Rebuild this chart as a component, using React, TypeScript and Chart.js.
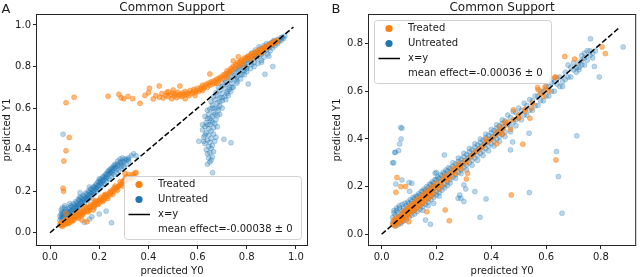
import React, { useEffect, useRef } from 'react';
import { Chart, registerables } from 'chart.js';
Chart.register(...registerables);

// ---------- Panel A data (flat x,y pairs) ----------
const aTreated = [
  0.065,0.626, 0.098,0.652, 0.236,0.657, 0.28,0.666, 0.289,0.65, 0.30,0.645, 0.317,0.656, 0.336,0.645, 0.366,0.623,
  0.386,0.661, 0.404,0.695, 0.40,0.674, 0.42,0.644, 0.444,0.706, 0.43,0.66, 0.445,0.652, 0.455,0.67, 0.46,0.648,
  0.47,0.66, 0.475,0.675, 0.481,0.679, 0.48,0.655, 0.49,0.665, 0.495,0.645, 0.50,0.672, 0.501,0.687, 0.505,0.658,
  0.51,0.668, 0.515,0.65, 0.52,0.676, 0.525,0.66, 0.528,0.706, 0.53,0.667, 0.535,0.655, 0.54,0.672, 0.545,0.662,
  0.55,0.68, 0.555,0.665, 0.56,0.673, 0.565,0.66, 0.57,0.685, 0.575,0.67, 0.58,0.678, 0.585,0.69, 0.59,0.675,
  0.595,0.685, 0.60,0.695, 0.605,0.68, 0.61,0.69, 0.615,0.70, 0.62,0.71, 0.625,0.695, 0.63,0.705, 0.635,0.715,
  0.64,0.70, 0.645,0.72, 0.65,0.764, 0.65,0.71, 0.655,0.725, 0.66,0.715, 0.665,0.73, 0.67,0.72, 0.675,0.735,
  0.68,0.74, 0.685,0.73, 0.69,0.745, 0.695,0.75, 0.70,0.74, 0.705,0.76, 0.71,0.755, 0.715,0.765, 0.72,0.78,
  0.725,0.77, 0.73,0.775, 0.732,0.775, 0.735,0.79, 0.74,0.785, 0.745,0.827, 0.745,0.80, 0.75,0.795, 0.755,0.81,
  0.76,0.805, 0.766,0.847, 0.765,0.82, 0.77,0.815, 0.775,0.825, 0.78,0.83, 0.785,0.82, 0.79,0.84, 0.795,0.835,
  0.80,0.845, 0.805,0.85, 0.81,0.84, 0.815,0.855, 0.82,0.86, 0.825,0.85, 0.83,0.865, 0.835,0.87, 0.84,0.86,
  0.845,0.875, 0.85,0.88, 0.855,0.87, 0.86,0.885, 0.865,0.88, 0.87,0.89, 0.875,0.895, 0.88,0.89, 0.885,0.90,
  0.89,0.905, 0.895,0.90, 0.90,0.91, 0.905,0.915, 0.91,0.91, 0.915,0.92, 0.92,0.925, 0.925,0.92, 0.78,0.805,
  0.82,0.835, 0.86,0.865, 0.59,0.66, 0.55,0.645, 0.62,0.685, 0.68,0.72, 0.72,0.75,
  0.04,0.04, 0.045,0.035, 0.05,0.045, 0.05,0.03, 0.055,0.05, 0.06,0.04, 0.06,0.055, 0.065,0.05, 0.07,0.06,
  0.07,0.045, 0.075,0.055, 0.08,0.065, 0.08,0.05, 0.085,0.06, 0.09,0.07, 0.09,0.055, 0.095,0.075, 0.10,0.07,
  0.10,0.085, 0.105,0.08, 0.11,0.075, 0.11,0.09, 0.115,0.085, 0.12,0.095, 0.12,0.08, 0.125,0.09, 0.13,0.10,
  0.13,0.085, 0.135,0.105, 0.14,0.10, 0.145,0.11, 0.15,0.105, 0.15,0.12, 0.155,0.115, 0.16,0.125, 0.16,0.11,
  0.165,0.12, 0.17,0.13, 0.175,0.125, 0.18,0.14, 0.18,0.13, 0.185,0.145, 0.19,0.14, 0.195,0.15, 0.20,0.155,
  0.20,0.145, 0.205,0.16, 0.21,0.155, 0.215,0.165, 0.22,0.17, 0.22,0.16, 0.225,0.175, 0.23,0.18, 0.235,0.175,
  0.24,0.19, 0.245,0.185, 0.25,0.195, 0.255,0.205, 0.26,0.20, 0.265,0.21, 0.27,0.215, 0.275,0.22, 0.28,0.225,
  0.285,0.23, 0.29,0.235, 0.295,0.245, 0.30,0.25, 0.305,0.26, 0.31,0.27, 0.32,0.28, 0.33,0.26, 0.345,0.286,
  0.305,0.286, 0.34,0.27,
  0.045,0.05, 0.055,0.04, 0.065,0.065, 0.075,0.045, 0.085,0.075, 0.095,0.06, 0.105,0.095, 0.115,0.07,
  0.125,0.105, 0.135,0.09, 0.145,0.125, 0.155,0.10, 0.165,0.135, 0.175,0.11, 0.185,0.155, 0.195,0.135,
  0.205,0.17, 0.215,0.15, 0.225,0.185, 0.235,0.165, 0.245,0.20, 0.255,0.185, 0.265,0.225, 0.275,0.205,
  0.285,0.245, 0.295,0.225, 0.31,0.25, 0.32,0.265, 0.335,0.28, 0.35,0.29, 0.26,0.215, 0.22,0.18, 0.18,0.15,
  0.14,0.115, 0.10,0.08,
  0.078,0.459, 0.065,0.395, 0.056,0.345, 0.053,0.214, 0.055,0.20, 0.15,0.053, 0.065,0.093, 0.13,0.06,
];

const aUntreated = [
  0.04,0.06, 0.04,0.08, 0.045,0.07, 0.045,0.09, 0.05,0.065, 0.05,0.085, 0.05,0.10, 0.055,0.075, 0.055,0.095,
  0.06,0.08, 0.06,0.10, 0.065,0.09, 0.065,0.11, 0.07,0.085, 0.07,0.10, 0.075,0.095, 0.075,0.115, 0.08,0.10,
  0.08,0.12, 0.085,0.105, 0.09,0.11, 0.09,0.125, 0.095,0.115, 0.10,0.12, 0.10,0.135, 0.105,0.125, 0.11,0.13,
  0.11,0.145, 0.115,0.135, 0.12,0.14, 0.12,0.155, 0.125,0.145, 0.13,0.15, 0.13,0.165, 0.135,0.155, 0.14,0.16,
  0.14,0.175, 0.145,0.165, 0.15,0.17, 0.15,0.185, 0.155,0.175, 0.16,0.18, 0.16,0.195, 0.165,0.19, 0.17,0.195,
  0.17,0.21, 0.175,0.20, 0.18,0.205, 0.18,0.22, 0.185,0.215, 0.19,0.22, 0.19,0.235, 0.195,0.225, 0.20,0.23,
  0.20,0.245, 0.205,0.24, 0.21,0.245, 0.21,0.26, 0.215,0.25, 0.22,0.255, 0.22,0.27, 0.225,0.265, 0.23,0.27,
  0.23,0.285, 0.235,0.28, 0.24,0.285, 0.24,0.30, 0.245,0.29, 0.25,0.295, 0.25,0.31, 0.255,0.30, 0.26,0.31,
  0.26,0.325, 0.265,0.315, 0.27,0.32, 0.275,0.33, 0.28,0.325, 0.285,0.34, 0.29,0.335, 0.295,0.345, 0.30,0.34,
  0.305,0.355, 0.31,0.35, 0.32,0.36, 0.20,0.26, 0.16,0.22, 0.12,0.17, 0.08,0.14,
  0.045,0.11, 0.05,0.12, 0.06,0.13, 0.07,0.075, 0.08,0.085, 0.085,0.13, 0.09,0.095, 0.095,0.14, 0.10,0.105,
  0.105,0.15, 0.11,0.115, 0.115,0.16, 0.12,0.125, 0.125,0.17, 0.13,0.135, 0.135,0.18, 0.14,0.145, 0.145,0.19,
  0.15,0.155, 0.155,0.20, 0.16,0.165, 0.165,0.21, 0.17,0.175, 0.175,0.22, 0.18,0.19, 0.185,0.23, 0.19,0.20,
  0.195,0.245, 0.20,0.21, 0.205,0.255, 0.21,0.225, 0.215,0.27, 0.22,0.235, 0.225,0.28, 0.23,0.245, 0.235,0.295,
  0.24,0.26, 0.245,0.305, 0.25,0.27, 0.255,0.315, 0.26,0.28, 0.265,0.33, 0.27,0.29, 0.275,0.345, 0.28,0.30,
  0.285,0.355, 0.29,0.31, 0.295,0.36, 0.30,0.32, 0.31,0.33, 0.32,0.345, 0.33,0.37, 0.34,0.38, 0.29,0.32,
  0.27,0.305, 0.25,0.285, 0.23,0.26, 0.21,0.235, 0.19,0.21, 0.17,0.185, 0.15,0.165, 0.13,0.145, 0.11,0.125,
  0.09,0.105, 0.07,0.09, 0.05,0.075,
  0.053,0.474, 0.25,0.048, 0.17,0.077, 0.20,0.09, 0.228,0.104, 0.18,0.12, 0.122,0.193, 0.06,0.12, 0.16,0.065,
  0.14,0.05, 0.316,0.353, 0.35,0.37,
  0.661,0.289, 0.64,0.33, 0.65,0.34, 0.655,0.35, 0.645,0.36, 0.66,0.365, 0.64,0.38, 0.65,0.385, 0.665,0.39,
  0.635,0.40, 0.655,0.405, 0.645,0.415, 0.66,0.42, 0.63,0.43, 0.65,0.435, 0.67,0.44, 0.64,0.445, 0.655,0.455,
  0.625,0.46, 0.645,0.47, 0.665,0.475, 0.635,0.48, 0.655,0.49, 0.62,0.495, 0.645,0.50, 0.665,0.505, 0.63,0.51,
  0.65,0.52, 0.67,0.525, 0.635,0.53, 0.655,0.54, 0.675,0.545, 0.64,0.55, 0.66,0.56, 0.68,0.565, 0.645,0.57,
  0.665,0.58, 0.685,0.59, 0.65,0.595, 0.67,0.60, 0.69,0.61, 0.66,0.615, 0.68,0.625, 0.70,0.635, 0.67,0.64,
  0.69,0.65, 0.71,0.655, 0.68,0.66, 0.70,0.67, 0.72,0.68, 0.69,0.685, 0.71,0.695, 0.73,0.70, 0.70,0.705,
  0.72,0.715, 0.74,0.72, 0.715,0.725, 0.735,0.735, 0.755,0.74, 0.73,0.745, 0.75,0.755, 0.77,0.76, 0.745,0.765,
  0.765,0.775, 0.785,0.78, 0.76,0.785, 0.78,0.795, 0.80,0.80, 0.775,0.805, 0.795,0.815, 0.815,0.82, 0.79,0.825,
  0.81,0.835, 0.83,0.84, 0.805,0.845, 0.825,0.855, 0.845,0.86, 0.82,0.865, 0.84,0.87, 0.86,0.875, 0.835,0.88,
  0.855,0.885, 0.875,0.89, 0.85,0.895, 0.87,0.90, 0.89,0.905, 0.88,0.91, 0.90,0.915, 0.92,0.92, 0.91,0.925,
  0.935,0.93, 0.95,0.935,
  0.65,0.55, 0.67,0.57, 0.66,0.60, 0.68,0.60, 0.69,0.63, 0.70,0.65, 0.72,0.67, 0.73,0.69, 0.74,0.70, 0.76,0.73,
  0.76,0.75, 0.78,0.76, 0.79,0.78, 0.80,0.79, 0.82,0.81, 0.83,0.82, 0.84,0.84, 0.85,0.85, 0.86,0.86, 0.87,0.87,
  0.88,0.88, 0.89,0.89, 0.90,0.90, 0.91,0.91, 0.93,0.92, 0.94,0.94, 0.955,0.947, 0.64,0.52, 0.66,0.53, 0.63,0.47,
  0.625,0.44, 0.675,0.46, 0.62,0.52, 0.68,0.51, 0.63,0.56, 0.69,0.57, 0.64,0.59, 0.70,0.60, 0.655,0.63,
  0.715,0.64, 0.665,0.655, 0.725,0.66, 0.675,0.675, 0.735,0.68, 0.685,0.70, 0.745,0.70, 0.70,0.72, 0.76,0.72,
  0.71,0.74, 0.775,0.74, 0.725,0.76, 0.79,0.76, 0.74,0.775, 0.80,0.775, 0.755,0.79, 0.815,0.79, 0.77,0.80,
  0.83,0.80, 0.79,0.81, 0.845,0.815, 0.805,0.83, 0.86,0.83, 0.82,0.845, 0.87,0.845, 0.835,0.855, 0.885,0.86,
  0.85,0.87, 0.895,0.875, 0.865,0.885, 0.905,0.89, 0.88,0.895, 0.915,0.90, 0.895,0.91, 0.925,0.91, 0.91,0.92,
  0.94,0.925, 0.925,0.93, 0.945,0.94,
  0.707,0.45, 0.736,0.433, 0.874,0.763, 0.806,0.716, 0.906,0.80, 0.86,0.82, 0.89,0.85, 0.605,0.44,
];

// ---------- Panel B data (flat x,y pairs) ----------
const bTreated = [
  0.04,0.04, 0.045,0.05, 0.05,0.045, 0.05,0.06, 0.055,0.055, 0.06,0.05, 0.06,0.065, 0.065,0.06, 0.07,0.07,
  0.07,0.06, 0.075,0.075, 0.08,0.08, 0.08,0.07, 0.085,0.09, 0.09,0.085, 0.095,0.10, 0.10,0.095, 0.10,0.11,
  0.105,0.10, 0.11,0.115, 0.115,0.11, 0.12,0.125, 0.12,0.115, 0.125,0.13, 0.13,0.125, 0.135,0.14, 0.14,0.135,
  0.145,0.15, 0.15,0.145, 0.155,0.16, 0.16,0.155, 0.165,0.17, 0.17,0.165, 0.175,0.18, 0.18,0.175, 0.19,0.19,
  0.20,0.20, 0.21,0.205, 0.22,0.225, 0.23,0.23, 0.24,0.24, 0.25,0.255, 0.26,0.26, 0.27,0.275, 0.28,0.28,
  0.29,0.29, 0.30,0.305, 0.32,0.32, 0.34,0.345, 0.36,0.36, 0.38,0.385, 0.40,0.40, 0.42,0.43, 0.44,0.44,
  0.46,0.47, 0.48,0.48, 0.50,0.50, 0.38,0.40, 0.42,0.38, 0.44,0.42, 0.47,0.44, 0.45,0.47, 0.43,0.45,
  0.55,0.55, 0.58,0.59, 0.61,0.60,
  0.045,0.06, 0.05,0.035, 0.055,0.07, 0.06,0.045, 0.065,0.075, 0.07,0.055, 0.075,0.09, 0.08,0.06, 0.085,0.10,
  0.09,0.07, 0.095,0.11, 0.10,0.08, 0.105,0.12, 0.11,0.095, 0.115,0.13, 0.12,0.10, 0.125,0.14, 0.13,0.11,
  0.135,0.15, 0.14,0.12, 0.145,0.16, 0.15,0.13, 0.155,0.17, 0.16,0.14, 0.165,0.18, 0.17,0.15, 0.175,0.19,
  0.18,0.16, 0.185,0.20, 0.19,0.175, 0.20,0.215, 0.21,0.19, 0.22,0.205, 0.23,0.245, 0.24,0.225, 0.25,0.24,
  0.26,0.275, 0.27,0.255, 0.28,0.295, 0.29,0.275, 0.31,0.30, 0.33,0.33, 0.35,0.35, 0.37,0.37, 0.39,0.39,
  0.41,0.41, 0.43,0.425,
  0.313,0.256, 0.309,0.232, 0.232,0.102, 0.247,0.057, 0.473,0.165, 0.515,0.378, 0.056,0.238, 0.052,0.176,
  0.07,0.20, 0.636,0.312, 0.816,0.758, 0.804,0.786, 0.668,0.746, 0.634,0.66, 0.596,0.618, 0.571,0.606,
  0.704,0.735, 0.523,0.525, 0.481,0.522, 0.087,0.20, 0.165,0.095, 0.099,0.053, 0.569,0.616, 0.598,0.606,
  0.632,0.658, 0.59,0.578, 0.547,0.529, 0.523,0.515, 0.50,0.487, 0.451,0.459, 0.541,0.487,
];

const bUntreated = [
  0.04,0.05, 0.04,0.07, 0.045,0.04, 0.045,0.09, 0.05,0.06, 0.05,0.08, 0.055,0.05, 0.055,0.10, 0.06,0.07,
  0.06,0.09, 0.065,0.06, 0.065,0.11, 0.07,0.08, 0.07,0.05, 0.075,0.10, 0.08,0.07, 0.08,0.11, 0.085,0.09,
  0.09,0.12, 0.09,0.08, 0.095,0.10, 0.10,0.13, 0.10,0.09, 0.105,0.11, 0.11,0.14, 0.11,0.10, 0.115,0.12,
  0.12,0.15, 0.12,0.10, 0.125,0.13, 0.13,0.16, 0.13,0.115, 0.135,0.14, 0.14,0.165, 0.14,0.12, 0.145,0.15,
  0.15,0.18, 0.15,0.13, 0.155,0.16, 0.16,0.185, 0.16,0.145, 0.165,0.17, 0.17,0.195, 0.17,0.15, 0.175,0.18,
  0.18,0.21, 0.18,0.16, 0.185,0.19, 0.19,0.215, 0.19,0.17, 0.195,0.20, 0.20,0.23, 0.20,0.18, 0.205,0.21,
  0.21,0.235, 0.21,0.19, 0.215,0.22, 0.22,0.245, 0.22,0.20, 0.225,0.23, 0.23,0.255, 0.23,0.21, 0.235,0.24,
  0.24,0.265, 0.24,0.22, 0.245,0.25, 0.25,0.275, 0.25,0.23, 0.255,0.26, 0.26,0.285, 0.26,0.24, 0.265,0.27,
  0.27,0.295, 0.27,0.25, 0.275,0.28, 0.28,0.305, 0.28,0.26, 0.285,0.29, 0.29,0.315, 0.29,0.27, 0.295,0.30,
  0.30,0.325, 0.30,0.28, 0.305,0.31, 0.31,0.335, 0.31,0.29, 0.315,0.32, 0.32,0.345, 0.32,0.30, 0.325,0.33,
  0.33,0.355, 0.33,0.31, 0.335,0.34, 0.34,0.365, 0.34,0.32, 0.345,0.35, 0.35,0.375, 0.35,0.33, 0.355,0.36,
  0.36,0.385, 0.36,0.34, 0.365,0.37, 0.37,0.395, 0.37,0.35, 0.375,0.38, 0.38,0.405, 0.38,0.36, 0.385,0.39,
  0.39,0.415, 0.39,0.37, 0.395,0.40, 0.40,0.425, 0.40,0.38, 0.405,0.41, 0.41,0.435, 0.41,0.39, 0.415,0.42,
  0.42,0.445, 0.42,0.40, 0.425,0.43, 0.43,0.455, 0.43,0.41, 0.435,0.44, 0.44,0.465, 0.44,0.42, 0.445,0.45,
  0.45,0.475, 0.45,0.43, 0.46,0.46, 0.47,0.49, 0.47,0.45, 0.48,0.47, 0.49,0.51, 0.49,0.48, 0.50,0.49,
  0.51,0.52, 0.52,0.50, 0.53,0.54, 0.54,0.52, 0.55,0.56, 0.56,0.54, 0.57,0.58, 0.58,0.56, 0.59,0.60,
  0.60,0.58, 0.61,0.62, 0.62,0.60, 0.63,0.64, 0.64,0.63, 0.65,0.66, 0.66,0.64, 0.67,0.68, 0.68,0.66,
  0.69,0.70, 0.70,0.69, 0.71,0.70, 0.72,0.72, 0.73,0.71, 0.74,0.74, 0.75,0.73, 0.76,0.75, 0.77,0.76,
  0.65,0.62, 0.68,0.71, 0.62,0.65, 0.71,0.68, 0.72,0.70, 0.74,0.76, 0.75,0.77, 0.73,0.75, 0.76,0.77,
  0.045,0.10, 0.05,0.035, 0.055,0.11, 0.06,0.04, 0.065,0.12, 0.07,0.045, 0.075,0.125, 0.08,0.055, 0.085,0.13,
  0.09,0.06, 0.095,0.135, 0.10,0.07, 0.105,0.145, 0.11,0.08, 0.115,0.155, 0.12,0.085, 0.125,0.16, 0.13,0.095,
  0.135,0.17, 0.14,0.105, 0.145,0.18, 0.15,0.115, 0.155,0.19, 0.16,0.125, 0.165,0.20, 0.17,0.135, 0.175,0.21,
  0.18,0.145, 0.185,0.22, 0.19,0.155, 0.195,0.23, 0.20,0.165, 0.205,0.24, 0.21,0.175, 0.215,0.25, 0.22,0.185,
  0.225,0.26, 0.23,0.195, 0.235,0.27, 0.24,0.205, 0.245,0.28, 0.25,0.215, 0.26,0.30, 0.27,0.235, 0.28,0.32,
  0.29,0.255, 0.30,0.34, 0.31,0.27, 0.32,0.36, 0.33,0.29, 0.34,0.38, 0.35,0.31, 0.36,0.40, 0.37,0.33,
  0.38,0.42, 0.39,0.35, 0.40,0.44, 0.41,0.37, 0.42,0.46, 0.43,0.39, 0.44,0.48, 0.45,0.41, 0.46,0.50,
  0.47,0.43, 0.48,0.515, 0.49,0.455, 0.50,0.53, 0.51,0.48, 0.52,0.55, 0.53,0.50, 0.54,0.565, 0.55,0.52,
  0.56,0.58, 0.57,0.54, 0.58,0.60, 0.59,0.56, 0.60,0.62, 0.61,0.58, 0.62,0.635, 0.63,0.60, 0.64,0.655,
  0.66,0.62, 0.67,0.65, 0.69,0.66, 0.70,0.72, 0.72,0.69, 0.73,0.73, 0.74,0.71, 0.77,0.74, 0.78,0.77,
  0.05,0.05, 0.06,0.06, 0.07,0.065, 0.08,0.09, 0.09,0.10, 0.10,0.11, 0.11,0.12, 0.12,0.13, 0.13,0.14,
  0.14,0.15, 0.15,0.16, 0.16,0.17, 0.17,0.18, 0.18,0.19, 0.19,0.20,
  0.074,0.445, 0.071,0.40, 0.066,0.379, 0.062,0.351, 0.048,0.343, 0.044,0.30, 0.04,0.30, 0.052,0.211,
  0.10,0.217, 0.229,0.333, 0.20,0.259, 0.102,0.18, 0.30,0.207, 0.307,0.19, 0.285,0.165, 0.289,0.151,
  0.30,0.137, 0.381,0.148, 0.359,0.071, 0.178,0.042, 0.16,0.06, 0.538,0.424, 0.712,0.413, 0.638,0.347,
  0.645,0.242, 0.539,0.175, 0.658,0.088, 0.478,0.387, 0.47,0.354, 0.881,0.786, 0.762,0.82, 0.794,0.66,
  0.776,0.704, 0.11,0.214, 0.195,0.256, 0.34,0.179, 0.279,0.151, 0.074,0.228, 0.05,0.344, 0.07,0.448,
  0.21,0.16, 0.19,0.13, 0.17,0.12, 0.15,0.10,
];

const aLine = [0.0, 0.0, 0.99, 0.99];
const bLine = [0.0, 0.0, 0.87, 0.87];

const aXTicks = [0.0, 0.2, 0.4, 0.6, 0.8, 1.0];
const aYTicks = [0.0, 0.2, 0.4, 0.6, 0.8, 1.0];
const bXTicks = [0.0, 0.2, 0.4, 0.6, 0.8];
const bYTicks = [0.0, 0.2, 0.4, 0.6, 0.8];

const titleText = 'Common Support';
const xLabel = 'predicted Y0';
const yLabel = 'predicted Y1';
const legendLabels = ['Treated', 'Untreated', 'x=y'];
const aEffect = 'mean effect=-0.00038 ± 0';
const bEffect = 'mean effect=-0.00036 ± 0';

const FONT = '"DejaVu Sans", Verdana, sans-serif';
const ORANGE = '#ff7f0e';
const BLUE = '#1f77b4';

function pairs(a: number[]) {
  const out: { x: number; y: number }[] = [];
  for (let i = 0; i < a.length; i += 2) out.push({ x: a[i], y: a[i + 1] });
  return out;
}

type PanelCfg = {
  letter: string;
  treated: number[];
  untreated: number[];
  line: number[];
  xMin: number; xMax: number; yMin: number; yMax: number;
  xTicks: number[]; yTicks: number[];
  effect: string;
  legendAt: 'lr' | 'ul';
  area: { left: number; top: number; right: number; bottom: number };
  yLabelX: number;
  letterX: number;
};

const W = 320;
const H = 277;

function Panel({ cfg }: { cfg: PanelCfg }) {
  const ref = useRef<HTMLCanvasElement | null>(null);
  useEffect(() => {
    if (!ref.current) return;
    const p = cfg;
    const decor = {
      id: 'decor',
      afterDraw(chart: any) {
        const ctx = chart.ctx as CanvasRenderingContext2D;
        const ca = chart.chartArea;
        ctx.save();
        ctx.strokeStyle = '#262626';
        ctx.lineWidth = 1;
        ctx.strokeRect(ca.left - 0.5, ca.top - 0.5, ca.right - ca.left + 1, ca.bottom - ca.top + 1);
        ctx.fillStyle = '#1a1a1a';
        ctx.font = `12px ${FONT}`;
        ctx.textAlign = 'center';
        ctx.textBaseline = 'alphabetic';
        ctx.fillText(titleText, (ca.left + ca.right) / 2, 10.5);
        ctx.font = `13px ${FONT}`;
        ctx.textAlign = 'left';
        ctx.fillText(p.letter, p.letterX, 13);
        ctx.font = `10px ${FONT}`;
        ctx.textAlign = 'center';
        ctx.fillText(xLabel, (ca.left + ca.right) / 2, 273.5);
        ctx.save();
        ctx.translate(p.yLabelX, (ca.top + ca.bottom) / 2);
        ctx.rotate(-Math.PI / 2);
        ctx.fillText(yLabel, 0, 0);
        ctx.restore();
        const bw = 177, bh = 63, inset = 5.5;
        let bx: number, by: number;
        if (p.legendAt === 'lr') { bx = ca.right - inset - bw; by = ca.bottom - inset - bh; }
        else { bx = ca.left + inset; by = ca.top + inset; }
        const r = 3;
        ctx.beginPath();
        ctx.moveTo(bx + r, by);
        ctx.lineTo(bx + bw - r, by);
        ctx.arcTo(bx + bw, by, bx + bw, by + r, r);
        ctx.lineTo(bx + bw, by + bh - r);
        ctx.arcTo(bx + bw, by + bh, bx + bw - r, by + bh, r);
        ctx.lineTo(bx + r, by + bh);
        ctx.arcTo(bx, by + bh, bx, by + bh - r, r);
        ctx.lineTo(bx, by + r);
        ctx.arcTo(bx, by, bx + r, by, r);
        ctx.closePath();
        ctx.fillStyle = 'rgba(255,255,255,0.8)';
        ctx.fill();
        ctx.strokeStyle = '#d0d0d0';
        ctx.lineWidth = 1;
        ctx.stroke();
        const rows = [8, 23, 38, 53];
        const mx = bx + 14.5;
        const tx = bx + 33.5;
        ctx.fillStyle = ORANGE;
        ctx.beginPath(); ctx.arc(mx, by + rows[0], 3.6, 0, Math.PI * 2); ctx.fill();
        ctx.fillStyle = BLUE;
        ctx.beginPath(); ctx.arc(mx, by + rows[1], 3.6, 0, Math.PI * 2); ctx.fill();
        ctx.strokeStyle = '#000';
        ctx.lineWidth = 1.5;
        ctx.beginPath(); ctx.moveTo(bx + 4, by + rows[2]); ctx.lineTo(bx + 25.5, by + rows[2]); ctx.stroke();
        ctx.fillStyle = '#1a1a1a';
        ctx.font = `10px ${FONT}`;
        ctx.textAlign = 'left';
        ctx.textBaseline = 'middle';
        ctx.fillText(legendLabels[0], tx, by + rows[0]);
        ctx.fillText(legendLabels[1], tx, by + rows[1]);
        ctx.fillText(legendLabels[2], tx, by + rows[2]);
        ctx.fillText(p.effect, tx, by + rows[3]);
        ctx.restore();
      },
    };
    const tickFont = { family: FONT, size: 10 };
    const chart = new Chart(ref.current, {
      type: 'scatter',
      data: {
        datasets: [
          {
            label: 'x=y',
            data: [{ x: p.line[0], y: p.line[1] }, { x: p.line[2], y: p.line[3] }],
            showLine: true,
            borderColor: '#000',
            borderWidth: 1.5,
            borderDash: [5.5, 2.4],
            pointRadius: 0,
            fill: false,
          } as any,
          {
            label: 'Treated',
            data: pairs(p.treated),
            backgroundColor: 'rgba(255,127,14,0.55)',
            borderColor: 'rgba(255,127,14,0.55)',
            borderWidth: 0.8,
            pointRadius: 2.5,
          },
          {
            label: 'Untreated',
            data: pairs(p.untreated),
            backgroundColor: 'rgba(31,119,180,0.3)',
            borderColor: 'rgba(31,119,180,0.3)',
            borderWidth: 0.8,
            pointRadius: 2.5,
          },
        ],
      },
      options: {
        responsive: false,
        animation: false,
        layout: { padding: { left: 0, top: p.area.top, right: W - p.area.right, bottom: 0 } },
        plugins: { legend: { display: false }, tooltip: { enabled: false }, title: { display: false } },
        scales: {
          x: {
            type: 'linear',
            min: p.xMin,
            max: p.xMax,
            afterBuildTicks: (s: any) => { s.ticks = p.xTicks.map((v) => ({ value: v })); },
            afterFit: (s: any) => { s.height = H - p.area.bottom; },
            ticks: {
              autoSkip: false, maxRotation: 0, padding: 2, color: '#1a1a1a', font: tickFont,
              callback: (v: any) => Number(v).toFixed(1),
            },
            grid: { drawOnChartArea: false, drawTicks: true, tickLength: 4, color: '#262626' },
            border: { display: false },
          },
          y: {
            type: 'linear',
            min: p.yMin,
            max: p.yMax,
            afterBuildTicks: (s: any) => { s.ticks = p.yTicks.map((v) => ({ value: v })); },
            afterFit: (s: any) => { s.width = p.area.left; },
            ticks: {
              autoSkip: false, padding: 2, color: '#1a1a1a', font: tickFont,
              callback: (v: any) => Number(v).toFixed(1),
            },
            grid: { drawOnChartArea: false, drawTicks: true, tickLength: 4, color: '#262626' },
            border: { display: false },
          },
        },
      } as any,
      plugins: [decor],
    });
    return () => chart.destroy();
  }, [cfg]);
  return <canvas ref={ref} width={W} height={H} style={{ width: W, height: H, display: 'block' }} />;
}

const panelA: PanelCfg = {
  letter: 'A', treated: aTreated, untreated: aUntreated, line: aLine,
  xMin: -0.053, xMax: 1.045, yMin: -0.059, yMax: 1.048,
  xTicks: aXTicks, yTicks: aYTicks, effect: aEffect, legendAt: 'lr',
  area: { left: 37, top: 15, right: 307, bottom: 245 }, yLabelX: 9.5, letterX: 1.5,
};
const panelB: PanelCfg = {
  letter: 'B', treated: bTreated, untreated: bUntreated, line: bLine,
  xMin: -0.046, xMax: 0.925, yMin: -0.045, yMax: 0.92,
  xTicks: bXTicks, yTicks: bYTicks, effect: bEffect, legendAt: 'ul',
  area: { left: 49, top: 15, right: 318, bottom: 245 }, yLabelX: 20, letterX: 11.5,
};

export default function App() {
  return (
    <div style={{ position: 'fixed', left: 0, top: 0, width: 640, height: 277, background: '#fff', display: 'flex' }}>
      <Panel cfg={panelA} />
      <Panel cfg={panelB} />
    </div>
  );
}
